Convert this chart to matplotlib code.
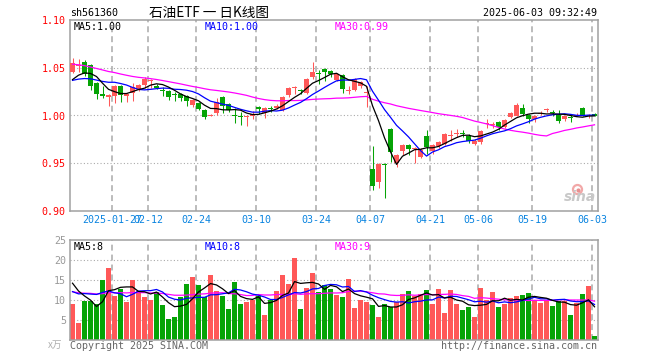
import matplotlib
matplotlib.use("Agg")
import matplotlib.pyplot as plt
from matplotlib.lines import Line2D
import numpy as np
import pandas as pd

# daily bars, 2025-01-16 .. 2025-06-03
opens = [1.046, 1.052, 1.056, 1.053, 1.034, 1.022, 1.019, 1.020, 1.031, 1.020,
         1.024, 1.028, 1.032, 1.036, 1.031, 1.027, 1.026, 1.022, 1.022, 1.020,
         1.011, 1.013, 1.006, 1.000, 1.003, 1.019, 1.012, 1.001, 0.999, 0.998,
         0.999, 1.009, 1.003, 1.008, 1.008, 1.006, 1.021, 1.029, 1.027, 1.024,
         1.040, 1.044, 1.049, 1.047, 1.037, 1.042, 1.026, 1.027, 1.031, 1.024,
         0.944, 0.930, 0.949, 0.986, 0.950, 0.963, 0.969, 0.965, 0.957, 0.979,
         0.963, 0.968, 0.970, 0.979, 0.981, 0.982, 0.979, 0.970, 0.972, 0.991,
         0.990, 0.993, 0.988, 0.998, 1.000, 1.008, 1.001, 0.996, 1.002, 1.006,
         1.004, 1.001, 0.996, 0.998, 1.000, 1.008, 0.999, 1.002]
highs = [1.060, 1.059, 1.058, 1.054, 1.035, 1.031, 1.023, 1.032, 1.032, 1.024,
         1.034, 1.033, 1.040, 1.038, 1.033, 1.030, 1.027, 1.025, 1.024, 1.021,
         1.017, 1.014, 1.007, 1.002, 1.018, 1.020, 1.013, 1.008, 1.004, 1.000,
         1.005, 1.010, 1.009, 1.010, 1.012, 1.020, 1.030, 1.031, 1.028, 1.039,
         1.056, 1.048, 1.050, 1.048, 1.045, 1.043, 1.031, 1.039, 1.036, 1.031,
         0.968, 0.950, 0.950, 0.987, 0.960, 0.970, 0.970, 0.967, 0.966, 0.985,
         0.970, 0.973, 0.982, 0.985, 0.986, 0.985, 0.981, 0.975, 0.985, 0.996,
         0.993, 0.994, 0.996, 1.004, 1.013, 1.012, 1.002, 1.001, 1.005, 1.008,
         1.006, 1.006, 1.000, 1.000, 1.003, 1.009, 1.002, 1.003]
lows = [1.045, 1.046, 1.041, 1.027, 1.017, 1.018, 1.010, 1.013, 1.014, 1.014,
        1.015, 1.026, 1.029, 1.029, 1.028, 1.020, 1.016, 1.015, 1.015, 1.010,
        1.009, 1.006, 0.996, 0.999, 1.000, 1.003, 1.004, 0.992, 0.990, 0.989,
        0.996, 1.002, 0.997, 1.004, 1.007, 1.005, 1.019, 1.023, 1.023, 1.023,
        1.038, 1.033, 1.036, 1.040, 1.036, 1.024, 1.022, 1.026, 1.029, 1.009,
        0.922, 0.924, 0.914, 0.951, 0.946, 0.959, 0.959, 0.950, 0.955, 0.960,
        0.960, 0.966, 0.969, 0.973, 0.978, 0.977, 0.971, 0.969, 0.970, 0.987,
        0.987, 0.985, 0.987, 0.997, 0.999, 0.999, 0.992, 0.993, 1.000, 1.004,
        0.999, 0.992, 0.994, 0.993, 0.999, 0.999, 0.997, 0.999]
closes = [1.055, 1.053, 1.043, 1.031, 1.022, 1.020, 1.021, 1.031, 1.021, 1.022,
          1.030, 1.032, 1.038, 1.037, 1.029, 1.026, 1.019, 1.021, 1.018, 1.015,
          1.016, 1.007, 0.998, 1.001, 1.014, 1.010, 1.006, 1.000, 0.998, 0.999,
          1.002, 1.007, 1.008, 1.007, 1.010, 1.019, 1.029, 1.030, 1.026, 1.038,
          1.046, 1.043, 1.046, 1.043, 1.043, 1.028, 1.027, 1.038, 1.035, 1.025,
          0.926, 0.949, 0.948, 0.962, 0.959, 0.969, 0.965, 0.966, 0.964, 0.967,
          0.969, 0.972, 0.981, 0.980, 0.982, 0.981, 0.973, 0.973, 0.984, 0.992,
          0.991, 0.988, 0.995, 1.003, 1.011, 1.002, 0.996, 1.000, 1.003, 1.007,
          1.003, 0.994, 0.999, 0.997, 1.001, 1.000, 1.000, 1.000]
volumes = [9.0, 4.25, 9.8, 9.8, 9.0, 15.0, 18.0, 11.1, 12.75, 9.5,
           15.0, 12.3, 10.75, 10.0, 11.9, 8.75, 5.25, 5.75, 10.75, 14.0,
           15.8, 13.75, 10.75, 16.25, 12.25, 11.0, 7.75, 14.5, 9.0, 9.5,
           10.0, 11.0, 6.25, 10.0, 12.25, 16.25, 14.0, 20.5, 7.75, 13.0,
           16.75, 12.0, 13.75, 12.75, 11.25, 10.75, 15.25, 8.0, 10.0, 9.5,
           8.75, 5.75, 9.0, 8.25, 9.5, 11.6, 12.25, 11.0, 11.5, 12.5,
           9.0, 12.75, 6.75, 12.5, 9.0, 7.5, 8.25, 5.75, 13.0, 10.0,
           12.0, 8.25, 9.0, 10.5, 11.0, 11.25, 11.75, 10.0, 9.25, 10.0,
           8.5, 9.75, 9.75, 6.25, 9.25, 11.5, 13.5, 1.0]

# sessions before the window, estimated from where the MA lines start
prior_closes = [1.072, 1.070, 1.074, 1.068, 1.066, 1.070, 1.064, 1.066, 1.062, 1.067,
                1.060, 1.057, 1.059, 1.056, 1.058, 1.054, 1.057, 1.053, 1.056, 1.055,
                1.040, 1.037, 1.034, 1.035, 1.034, 1.030, 1.031, 1.034, 1.038]
prior_volumes = [12, 13, 11, 14, 12, 10, 13, 12, 11, 12,
                 13, 11, 12, 14, 11, 12, 12, 11, 13, 12,
                 10, 9, 11, 10, 10, 14, 16, 15, 17]

tick_idx = [7, 13, 21, 31, 41, 50, 60, 68, 77, 87]
tick_labels = ["2025-01-27", "02-12", "02-24", "03-10", "03-24",
               "04-07", "04-21", "05-06", "05-19", "06-03"]

RED = "#ff5858"
GREEN = "#06a406"
GRID = "#aaaaaa"
MONO = "DejaVu Sans Mono"
FS = 7.2

W, H = 660, 360


def fx(px):
    return px / W


def fy(py):
    return 1 - py / H


def moving(values, prior, n):
    s = pd.Series(list(prior) + list(values)).rolling(n).mean()
    return s.to_numpy()[len(prior):]


o = np.array(opens)
c = np.array(closes)
x = np.arange(len(c))
up = c >= o
cols = np.where(up, RED, GREEN)

fig = plt.figure(figsize=(6.6, 3.6), dpi=100)
fig.patch.set_facecolor("white")

ax = fig.add_axes([fx(70), fy(211), fx(527.7), 191 / H])
axv = fig.add_axes([fx(70), fy(340), fx(527.7), 100 / H])

for a in (ax, axv):
    a.set_xlim(-0.42, 87.53)
    for sp in a.spines.values():
        sp.set_color("#a0a0a0")
        sp.set_linewidth(1.1)
    for t in tick_idx:
        a.axvline(t - 0.4, color=GRID, lw=1.1, ls=(0, (3.9, 2.6)), zorder=0)

# price panel
ax.set_ylim(0.90, 1.10)
for yv in (0.95, 1.00, 1.05):
    ax.axhline(yv, color=GRID, lw=0.8, ls=(0, (1, 2)), zorder=0)
ax.vlines(x, lows, highs, colors=cols, lw=0.75, zorder=2)
body = np.maximum(np.abs(c - o), 0.0009)
ax.bar(x, body, bottom=np.minimum(o, c), width=0.83, color=cols, lw=0, zorder=3)

ma5 = moving(closes, prior_closes, 5)
ma10 = moving(closes, prior_closes, 10)
ma30 = moving(closes, prior_closes, 30)
ax.plot(x, ma30, color="#ff00ff", lw=0.9, zorder=4)
ax.plot(x, ma10, color="#0000ff", lw=0.9, zorder=4)
ax.plot(x, ma5, color="black", lw=0.9, zorder=5)

ax.set_yticks([0.90, 0.95, 1.00, 1.05, 1.10])
ax.set_yticklabels([f"{v:.2f}" for v in [0.90, 0.95, 1.00, 1.05, 1.10]],
                   family=MONO, fontsize=FS, color="red")
ax.set_xticks([t - 0.4 for t in tick_idx])
ax.set_xticklabels(tick_labels, family=MONO, fontsize=FS, color="#0a84e0")
ax.tick_params(length=0, pad=3)

# volume panel
axv.set_ylim(0, 25)
for yv in (5, 10, 15, 20):
    axv.axhline(yv, color=GRID, lw=0.8, ls=(0, (1, 2)), zorder=0)
axv.bar(x, volumes, width=0.83, color=cols, lw=0, zorder=2)
vma5 = moving(volumes, prior_volumes, 5)
vma10 = moving(volumes, prior_volumes, 10)
vma30 = moving(volumes, prior_volumes, 30)
axv.plot(x, vma30, color="#ff00ff", lw=0.9, zorder=4)
axv.plot(x, vma10, color="#0000ff", lw=0.9, zorder=4)
axv.plot(x, vma5, color="black", lw=0.9, zorder=5)
axv.set_yticks([5, 10, 15, 20, 25])
axv.set_yticklabels(["5", "10", "15", "20", "25"], family=MONO, fontsize=FS,
                    color="#999999")
axv.set_xticks([])
axv.tick_params(length=0, pad=3)

# texts
fig.text(fx(70), fy(13), "sh561360", family=MONO, fontsize=FS, va="center")
fig.text(fx(209), fy(13), "石油ETF 一 日K线图", fontsize=9.8, va="center",
         ha="center", family=["Noto Sans CJK SC", "DejaVu Sans"])
fig.text(fx(597), fy(13), "2025-06-03 09:32:49", family=MONO, fontsize=FS,
         va="center", ha="right")

fig.text(fx(74), fy(27), f"MA5:{ma5[-1]:.2f}", family=MONO, fontsize=FS,
         va="center", color="black")
fig.text(fx(205), fy(27), f"MA10:{ma10[-1]:.2f}", family=MONO, fontsize=FS,
         va="center", color="#0000ff")
fig.text(fx(335), fy(27), f"MA30:{ma30[-1]:.2f}", family=MONO, fontsize=FS,
         va="center", color="#ff00ff")

fig.text(fx(74), fy(247), f"MA5:{int(vma5[-1])}", family=MONO, fontsize=FS,
         va="center", color="black")
fig.text(fx(205), fy(247), f"MA10:{int(vma10[-1])}", family=MONO, fontsize=FS,
         va="center", color="#0000ff")
fig.text(fx(335), fy(247), f"MA30:{int(vma30[-1])}", family=MONO, fontsize=FS,
         va="center", color="#ff00ff")

fig.text(fx(62), fy(345), "x万", fontsize=7, va="center", ha="right",
         color="#b0b0b0", family=["Noto Sans CJK SC", "DejaVu Sans"])
fig.text(fx(70), fy(346), "Copyright 2025 SINA.COM", family=MONO, fontsize=FS,
         va="center", color="#666666")
fig.text(fx(597), fy(346), "http://finance.sina.com.cn", family=MONO,
         fontsize=FS, va="center", ha="right", color="#666666")

# sina watermark
fig.text(fx(580), fy(197), "sina", fontsize=10, weight="bold", style="italic",
         ha="center", va="center", color="#c8c8c8")
fig.add_artist(Line2D([fx(577)], [fy(189)], marker="o", markersize=6.5,
                      markerfacecolor="none", markeredgecolor="#f2a8a8",
                      markeredgewidth=1.6, transform=fig.transFigure))
fig.add_artist(Line2D([fx(578)], [fy(190)], marker="o", markersize=2,
                      color="#e89090", transform=fig.transFigure))

fig.savefig("out.png", dpi=100, facecolor="white")
